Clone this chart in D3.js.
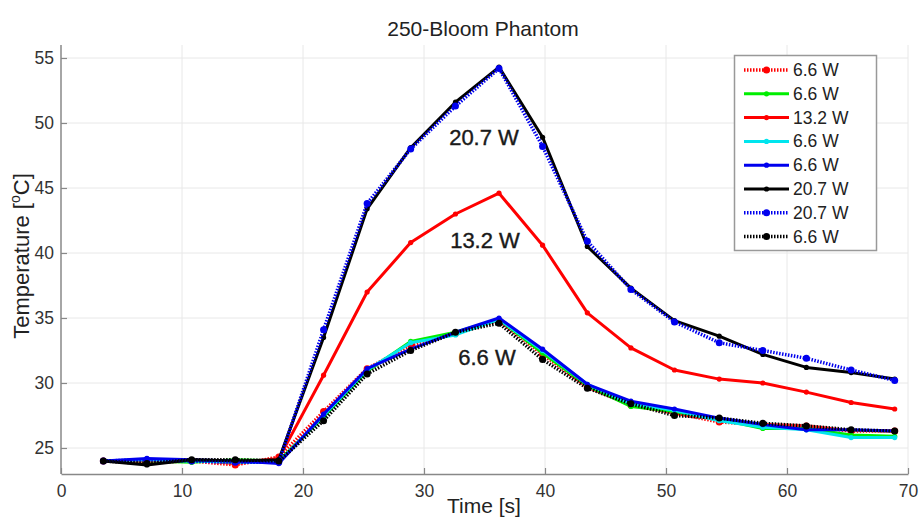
<!DOCTYPE html>
<html>
<head>
<meta charset="utf-8">
<script src="https://d3js.org/d3.v7.min.js"></script>
<style>
body{margin:0;background:#fff;}
text{font-family:"Liberation Sans",Arial,sans-serif;}
</style>
</head>
<body>
<svg width="919" height="520"></svg>
<script>
// time points [s]
var time = [3.5, 7.1, 10.8, 14.4, 18.0, 21.7, 25.3, 28.9, 32.6, 36.2, 39.8, 43.5, 47.1, 50.7, 54.4, 58.0, 61.6, 65.3, 68.9];

// temperature series [oC]
var redDot66   = [24.0, 23.9, 24.0, 23.7, 24.3, 27.8, 31.1, 32.9, 33.8, 34.8, 32.2, 29.7, 28.3, 27.7, 27.0, 26.8, 26.7, 26.3, 26.3];
var green66    = [24.0, 24.0, 23.9, 24.1, 24.0, 27.4, 30.9, 33.2, 33.9, 34.9, 32.3, 29.8, 28.2, 27.8, 27.2, 26.5, 26.5, 26.0, 25.9];
var red132     = [24.0, 24.0, 24.1, 23.8, 24.2, 30.6, 37.0, 40.8, 43.0, 44.6, 40.6, 35.4, 32.7, 31.0, 30.3, 30.0, 29.3, 28.5, 28.0];
var cyan66     = [24.0, 24.1, 24.0, 23.9, 23.9, 27.5, 31.0, 33.1, 33.7, 34.9, 32.5, 29.9, 28.4, 27.9, 27.1, 26.6, 26.4, 25.8, 25.8];
var blue66     = [24.0, 24.2, 24.1, 24.0, 23.8, 27.6, 31.1, 32.6, 33.9, 35.0, 32.6, 29.9, 28.6, 28.0, 27.3, 26.8, 26.4, 26.4, 26.3];
var black207   = [24.0, 23.7, 24.1, 24.0, 24.1, 33.5, 43.4, 48.1, 51.6, 54.3, 48.9, 40.5, 37.3, 34.8, 33.6, 32.2, 31.2, 30.8, 30.3];
var blueDot207 = [24.0, 24.1, 24.0, 23.9, 23.9, 34.1, 43.8, 48.0, 51.3, 54.2, 48.2, 40.9, 37.2, 34.7, 33.1, 32.5, 31.9, 31.0, 30.2];
var blackDot66 = [24.0, 23.8, 24.1, 24.1, 24.0, 27.1, 30.7, 32.5, 33.9, 34.6, 31.8, 29.6, 28.4, 27.5, 27.3, 26.9, 26.7, 26.4, 26.3];

var legendLabels = ["6.6 W", "6.6 W", "13.2 W", "6.6 W", "6.6 W", "20.7 W", "20.7 W", "6.6 W"];
var xTicks = [0, 10, 20, 30, 40, 50, 60, 70];
var yTicks = [25, 30, 35, 40, 45, 50, 55];

var seriesArr = [redDot66, green66, red132, cyan66, blue66, black207, blueDot207, blackDot66];
var colors = ["#ff0000", "#00ee00", "#ff0000", "#00e5ee", "#0000ee", "#000000", "#0000ee", "#000000"];
var dotted = [true, false, false, false, false, false, true, true];

var svgObj = d3.select("svg");
var pLeft = 61, pRight = 908, pTop = 45, pBottom = 474;

var x = d3.scaleLinear().domain([0, 70]).range([pLeft, pRight]);
var y = d3.scaleLinear().domain([23, 56]).range([pBottom, pTop]);

//网格线
var grid = svgObj.append("g");
grid.selectAll("line.gx").data(xTicks.slice(1)).enter().append("line")
  .attr("x1", function(d){ return x(d); }).attr("x2", function(d){ return x(d); })
  .attr("y1", pTop).attr("y2", pBottom)
  .attr("stroke", "#e8e8e8").attr("stroke-width", 1);
grid.selectAll("line.gy").data(yTicks).enter().append("line")
  .attr("x1", pLeft).attr("x2", pRight)
  .attr("y1", function(d){ return y(d); }).attr("y2", function(d){ return y(d); })
  .attr("stroke", "#e8e8e8").attr("stroke-width", 1);

//坐标轴
var xAxis = svgObj.append("g").attr("transform", "translate(0," + pBottom + ")")
  .call(d3.axisBottom(x).tickValues(xTicks).tickSizeInner(-6).tickSizeOuter(0).tickPadding(11));
var yAxis = svgObj.append("g").attr("transform", "translate(" + pLeft + ",0)")
  .call(d3.axisLeft(y).tickValues(yTicks).tickSizeInner(-6).tickSizeOuter(0).tickPadding(7));
[xAxis, yAxis].forEach(function(a){
  a.select(".domain").attr("stroke", "#888").attr("stroke-width", 1.5);
  a.selectAll(".tick line").attr("stroke", "#888").attr("stroke-width", 1.2);
  a.selectAll(".tick text").attr("fill", "#333").style("font-size", "17.5px");
});
yAxis.select(".domain").attr("d", "M0," + pTop + "V" + pBottom);

//曲线
var line = d3.line()
  .x(function(d, i){ return x(time[i]); })
  .y(function(d){ return y(d); });

for(var k = 0; k < seriesArr.length; k++){
  var g = svgObj.append("g");
  g.append("path")
    .attr("d", line(seriesArr[k]))
    .attr("fill", "none")
    .attr("stroke", colors[k])
    .attr("stroke-width", dotted[k] ? 3.5 : 3)
    .attr("stroke-dasharray", dotted[k] ? "1.5,1.5" : null)
    .attr("stroke-linejoin", "round");
  g.selectAll("circle").data(seriesArr[k]).enter().append("circle")
    .attr("cx", function(d, i){ return x(time[i]); })
    .attr("cy", function(d){ return y(d); })
    .attr("r", dotted[k] ? 3.5 : 2.6)
    .attr("fill", colors[k]);
}

//曲线标注
var notes = [["20.7 W", 484, 145], ["13.2 W", 485, 248], ["6.6 W", 487, 365]];
svgObj.selectAll("text.note").data(notes).enter().append("text")
  .attr("x", function(d){ return d[1]; }).attr("y", function(d){ return d[2]; })
  .attr("text-anchor", "middle").style("font-size", "22px")
  .attr("fill", "#1a1a1a").attr("stroke", "#1a1a1a").attr("stroke-width", 0.4)
  .text(function(d){ return d[0]; });

//图例
var lg = svgObj.append("g");
lg.append("rect").attr("x", 734.5).attr("y", 55.5).attr("width", 142).attr("height", 195)
  .attr("fill", "#fff").attr("stroke", "#999").attr("stroke-width", 1.5);
for(var k = 0; k < legendLabels.length; k++){
  var ly = 70 + k * 23.8;
  lg.append("line").attr("x1", 744).attr("x2", 789).attr("y1", ly).attr("y2", ly)
    .attr("stroke", colors[k]).attr("stroke-width", dotted[k] ? 3.5 : 3)
    .attr("stroke-dasharray", dotted[k] ? "1.5,1.5" : null);
  lg.append("circle").attr("cx", 766.5).attr("cy", ly).attr("r", dotted[k] ? 3.5 : 2.6).attr("fill", colors[k]);
  lg.append("text").attr("x", 793).attr("y", ly + 6).style("font-size", "17.5px")
    .attr("fill", "#222").text(legendLabels[k]);
}

//标题与轴标签
svgObj.append("text").attr("x", 483).attr("y", 36).attr("text-anchor", "middle")
  .style("font-size", "21px").attr("fill", "#222").text("250-Bloom Phantom");
svgObj.append("text").attr("x", 484).attr("y", 513).attr("text-anchor", "middle")
  .style("font-size", "21px").attr("fill", "#222").text("Time [s]");
var yl = svgObj.append("text").attr("transform", "translate(29,256) rotate(-90)")
  .attr("text-anchor", "middle").style("font-size", "22px").attr("fill", "#222");
yl.append("tspan").text("Temperature [");
yl.append("tspan").attr("dy", -9).style("font-size", "14px").text("o");
yl.append("tspan").attr("dy", 9).text("C]");
</script>
</body>
</html>
